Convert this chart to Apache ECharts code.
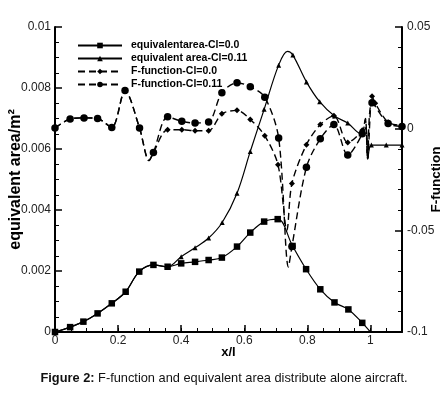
<!DOCTYPE html>
<html>
<head>
<meta charset="utf-8">
<script src="https://cdn.jsdelivr.net/npm/echarts@6/dist/echarts.min.js"></script>
<style>
html, body { margin: 0; padding: 0; background: #fff; }
#main { width: 448px; height: 393px; }
</style>
</head>
<body>
<div id="main"></div>
<script>
// equivalent area, Cl=0.0 (squares)
var xArea0 = [0, 0.048, 0.09, 0.135, 0.18, 0.224, 0.267, 0.312, 0.357, 0.40, 0.444, 0.487, 0.529,
              0.577, 0.619, 0.663, 0.706, 0.753, 0.796, 0.841, 0.886, 0.93, 0.974, 1.0];
var area0 = [0, 0.00016, 0.00034, 0.00061, 0.00094, 0.00132, 0.00198, 0.0022, 0.00214, 0.00225, 0.0023, 0.00236, 0.00244,
             0.0028, 0.00326, 0.00362, 0.0037, 0.00282, 0.00206, 0.0014, 0.00097, 0.00074, 0.0003, 0];
var area0NoMark = [23];

// equivalent area, Cl=0.11 (triangles)
var xArea11 = [0, 0.048, 0.09, 0.135, 0.18, 0.224, 0.267, 0.312, 0.357, 0.40, 0.444, 0.487, 0.53,
               0.577, 0.619, 0.663, 0.709, 0.737, 0.754, 0.797, 0.839, 0.886, 0.928, 0.97, 0.986, 0.992, 1.003, 1.05, 1.1];
var area11 = [0, 0.00016, 0.00034, 0.00061, 0.00094, 0.00132, 0.00198, 0.0022, 0.00214, 0.00247, 0.00276, 0.00308, 0.00359,
              0.00455, 0.00592, 0.0073, 0.00875, 0.0092, 0.00908, 0.0082, 0.00755, 0.00708, 0.00685, 0.0065, 0.0067, 0.0057, 0.00613, 0.00613, 0.00613];
var area11NoMark = [17, 24, 25];

// F-function, Cl=0.0 (diamonds)
var xF0 = [0, 0.048, 0.092, 0.135, 0.18, 0.222, 0.268, 0.298, 0.312, 0.357, 0.402, 0.444, 0.487, 0.529,
           0.577, 0.619, 0.665, 0.707, 0.735, 0.751, 0.797, 0.841, 0.884, 0.928, 0.974, 0.984, 0.991, 1.005, 1.015, 1.056, 1.1];
var f0 = [0.0003, 0.0048, 0.0053, 0.005, 0.0006, 0.0188, 0.0003, -0.0157, -0.0117, -0.0005, -0.0005, -0.001, -0.001, 0.0073,
          0.009, 0.0045, -0.0035, -0.0178, -0.05, -0.027, -0.0079, 0.002, 0.0064, -0.0068, -0.0008, 0.005, -0.015, 0.016, 0.0125, 0.0032, 0.0015];
var f0NoMark = [7, 18, 25, 26];

// F-function, Cl=0.11 (circles)
var xF11 = [0, 0.048, 0.092, 0.135, 0.18, 0.222, 0.268, 0.298, 0.312, 0.357, 0.402, 0.444, 0.487, 0.529,
            0.577, 0.619, 0.665, 0.709, 0.74, 0.751, 0.797, 0.841, 0.884, 0.928, 0.974, 0.984, 0.991, 1.005, 1.056, 1.1];
var f11 = [0.0003, 0.0048, 0.0053, 0.005, 0.0006, 0.0188, 0.0003, -0.0157, -0.0117, 0.0058, 0.0036, 0.0028, 0.0033, 0.0177,
           0.0226, 0.0206, 0.0155, -0.0046, -0.068, -0.058, -0.019, -0.005, 0.002, -0.0129, -0.0025, 0.0045, -0.015, 0.0127, 0.0025, 0.0011];
var f11NoMark = [7, 18, 25, 26];

var names = ['equivalentarea-Cl=0.0', 'equivalent area-Cl=0.11', 'F-function-Cl=0.0', 'F-function-Cl=0.11'];
var xTicks = { min: 0, max: 1.1, interval: 0.2 };

var FONT = 'Arial, "Liberation Sans", sans-serif';

function pairs(xs, ys, noMark) {
    return xs.map(function (x, i) {
        if (noMark.indexOf(i) >= 0) return { value: [x, ys[i]], symbol: 'none' };
        return [x, ys[i]];
    });
}

var chart = echarts.init(document.getElementById('main'), null, { renderer: 'canvas' });

var solid = { color: '#000', width: 1.2 };
var dashed = { color: '#000', width: 1.4, type: [7, 4] };
var nameStyle = { fontWeight: 'bold', color: '#000', fontFamily: FONT };

var option = {
    backgroundColor: '#fff',
    animation: false,
    textStyle: { fontFamily: FONT },
    title: {
        text: '{b|Figure 2:} F-function and equivalent area distribute alone aircraft.',
        left: 'center',
        top: 367,
        textStyle: {
            fontSize: 12.8, fontWeight: 'normal', color: '#111', fontFamily: FONT,
            rich: { b: { fontSize: 12.8, fontWeight: 'bold', color: '#111', fontFamily: FONT } }
        }
    },
    legend: {
        orient: 'vertical',
        left: 77,
        top: 40,
        padding: 0,
        itemWidth: 44,
        itemHeight: 7,
        itemGap: 2,
        data: names,
        textStyle: { fontSize: 10.5, fontWeight: 'bold', color: '#000', fontFamily: FONT, padding: [0, 0, 0, 4] }
    },
    grid: { left: 55, right: 46, top: 27, bottom: 61, outerBoundsMode: 'none', containLabel: false },
    xAxis: [{
        type: 'value',
        min: xTicks.min, max: xTicks.max, interval: xTicks.interval,
        position: 'bottom',
        name: 'x/l',
        nameLocation: 'middle',
        nameGap: 14,
        nameMoveOverlap: false,
        nameTextStyle: Object.assign({ fontSize: 13 }, nameStyle),
        axisLine: { onZero: false, lineStyle: { color: '#000', width: 2 } },
        axisTick: { inside: true, length: 7, lineStyle: { color: '#000', width: 1.5 } },
        axisLabel: { fontSize: 12, color: '#222', margin: 3, showMaxLabel: false, fontFamily: FONT },
        splitLine: { show: false }
    }, {
        type: 'value',
        min: xTicks.min, max: xTicks.max, interval: 0.05,
        position: 'bottom',
        axisLine: { show: false, onZero: false },
        axisTick: { inside: true, length: 4, lineStyle: { color: '#000', width: 1 } },
        axisLabel: { show: false },
        splitLine: { show: false }
    }],
    yAxis: [{
        type: 'value',
        min: 0, max: 0.01, interval: 0.002,
        position: 'left',
        name: 'equivalent area/m²',
        nameLocation: 'middle',
        nameGap: 31,
        nameRotate: 90,
        nameMoveOverlap: false,
        nameTextStyle: Object.assign({ fontSize: 16 }, nameStyle),
        axisLine: { show: true, onZero: false, lineStyle: { color: '#000', width: 2 } },
        axisTick: { show: true, inside: true, length: 7, lineStyle: { color: '#000', width: 1.5 } },
        minorTick: { show: true, splitNumber: 4, length: 4, lineStyle: { color: '#000', width: 1 } },
        axisLabel: { fontSize: 12, color: '#222', margin: 4, fontFamily: FONT },
        splitLine: { show: false }
    }, {
        type: 'value',
        min: -0.1, max: 0.05, interval: 0.05,
        position: 'right',
        name: 'F-function',
        nameLocation: 'middle',
        nameGap: 27,
        nameRotate: 90,
        nameMoveOverlap: false,
        nameTextStyle: Object.assign({ fontSize: 13.5 }, nameStyle),
        axisLine: { show: true, onZero: false, lineStyle: { color: '#000', width: 2 } },
        axisTick: { show: true, inside: true, length: 7, lineStyle: { color: '#000', width: 1.5 } },
        minorTick: { show: true, splitNumber: 5, length: 4, lineStyle: { color: '#000', width: 1 } },
        axisLabel: { fontSize: 12, color: '#222', margin: 5, fontFamily: FONT },
        splitLine: { show: false }
    }],
    series: [{
        name: names[0],
        type: 'line',
        xAxisIndex: 0, yAxisIndex: 0,
        z: 5,
        smooth: 0.35,
        symbol: 'rect', symbolSize: 6.5,
        itemStyle: { color: '#000' },
        lineStyle: solid,
        data: pairs(xArea0, area0, area0NoMark)
    }, {
        name: names[1],
        type: 'line',
        xAxisIndex: 0, yAxisIndex: 0,
        z: 4,
        smooth: 0.35,
        symbol: 'triangle', symbolSize: 5,
        itemStyle: { color: '#000' },
        lineStyle: solid,
        data: pairs(xArea11, area11, area11NoMark)
    }, {
        name: names[2],
        type: 'line',
        xAxisIndex: 0, yAxisIndex: 1,
        z: 2,
        smooth: 0.3,
        symbol: 'diamond', symbolSize: 6,
        itemStyle: { color: '#000' },
        lineStyle: dashed,
        data: pairs(xF0, f0, f0NoMark)
    }, {
        name: names[3],
        type: 'line',
        xAxisIndex: 0, yAxisIndex: 1,
        z: 3,
        smooth: 0.3,
        symbol: 'circle', symbolSize: 7.5,
        itemStyle: { color: '#000' },
        lineStyle: dashed,
        data: pairs(xF11, f11, f11NoMark)
    }]
};

chart.setOption(option);
</script>
</body>
</html>
